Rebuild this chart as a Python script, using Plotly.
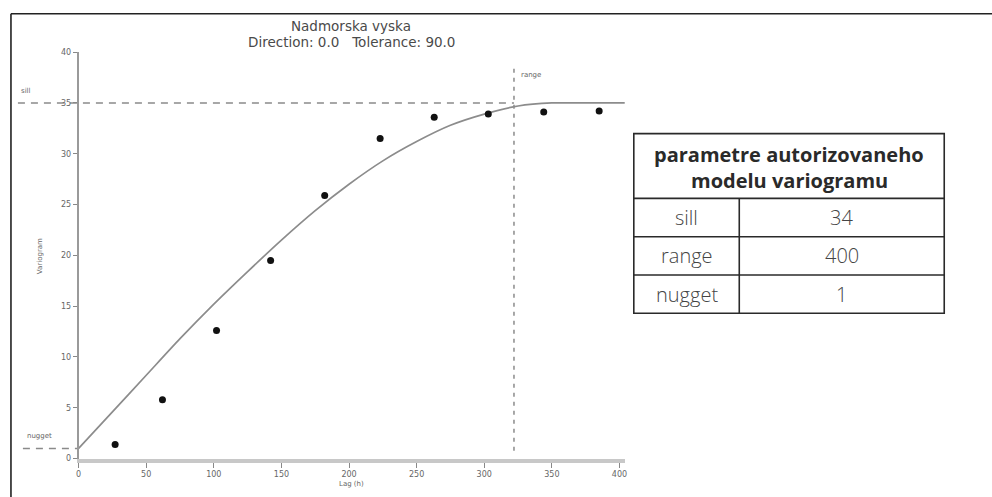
import plotly.graph_objects as go

# ---- data ---------------------------------------------------------------
# experimental semivariogram (lag h, gamma)
lag = [27, 62, 102, 142, 182, 223, 263, 303, 344, 385]
semivariance = [1.4, 5.8, 12.6, 19.5, 25.9, 31.5, 33.6, 33.9, 34.1, 34.2]

# fitted model curve sampled along the lag axis
curve_lag = [0, 25, 50, 75, 100, 125, 150, 175, 200, 225, 250, 275, 300, 325, 350, 375, 404]
curve_gamma = [1.0, 4.6, 8.2, 11.8, 15.2, 18.4, 21.5, 24.4, 27.0, 29.3, 31.2, 32.8, 33.9, 34.7, 35.0, 35.0, 35.0]

x_ticks = [0, 50, 100, 150, 200, 250, 300, 350, 400]
y_ticks = [0, 5, 10, 15, 20, 25, 30, 35, 40]

nugget = 1
partial_sill = 34
range_lag = 322

table_header = ["parametre autorizovaneho", "modelu variogramu"]
table_names = ["sill", "range", "nugget"]
table_values = ["34", "400", "1"]

title_lines = ["Nadmorska vyska", "Direction: 0.0\u00a0\u00a0\u00a0Tolerance: 90.0"]

# ---- geometry helpers ---------------------------------------------------
W, H = 992, 497
XR = [0, 404]
YR = [0, 40]
XD = [76 / W, 625 / W]
YD = [1 - 463 / H, 1 - 49 / H]


def fx(p):
    return p / W


def fy(p):
    return 1 - p / H


def x_to_paper(v):
    return XD[0] + (v - XR[0]) / (XR[1] - XR[0]) * (XD[1] - XD[0])


TICK_FONT = dict(family="DejaVu Sans", size=8, color="#666666")
SMALL_FONT = dict(family="DejaVu Sans", size=7, color="#666666")

fig = go.Figure()

# model curve
fig.add_trace(go.Scatter(
    x=curve_lag, y=curve_gamma, mode="lines",
    line=dict(color="#8c8c8c", width=1.7, shape="spline", smoothing=0.7),
    hoverinfo="skip",
))

# experimental points
fig.add_trace(go.Scatter(
    x=lag, y=semivariance, mode="markers",
    marker=dict(color="#111111", size=7, symbol="circle"),
))

shapes = []
dash_col = "#8a8a8a"

# sill reference line (nugget + partial sill)
shapes.append(dict(
    type="line", xref="paper", yref="y",
    x0=fx(15), x1=x_to_paper(range_lag),
    y0=nugget + partial_sill, y1=nugget + partial_sill,
    line=dict(color=dash_col, width=1.5, dash="7px,6px"), layer="below",
))
# nugget reference line
shapes.append(dict(
    type="line", xref="paper", yref="y",
    x0=fx(20), x1=x_to_paper(0),
    y0=nugget, y1=nugget,
    line=dict(color=dash_col, width=1.5, dash="7px,6px"), layer="below",
))
# range marker
shapes.append(dict(
    type="line", xref="x", yref="paper",
    x0=range_lag, x1=range_lag, y0=fy(455), y1=fy(66),
    line=dict(color=dash_col, width=1.5, dash="4px,5px"), layer="below",
))

# outer frame (top and left edges)
shapes.append(dict(type="line", xref="paper", yref="paper",
                   x0=fx(8), x1=1.01, y0=fy(10), y1=fy(10),
                   line=dict(color="#222222", width=1.6)))
shapes.append(dict(type="line", xref="paper", yref="paper",
                   x0=fx(8), x1=fx(8), y0=fy(10), y1=-0.01,
                   line=dict(color="#222222", width=1.6)))

# parameter table
tx0, tx1, tcol = 634, 946, 740
ty_top, ty_head, ty_bot = 132, 198, 315
row_edges = [198, 237, 276, 315]
tcolor = "#2a2a2a"
shapes.append(dict(type="rect", xref="paper", yref="paper",
                   x0=fx(tx0), x1=fx(tx1), y0=fy(ty_bot), y1=fy(ty_top),
                   line=dict(color=tcolor, width=1.6), fillcolor="white"))
for ye in row_edges[:-1]:
    shapes.append(dict(type="line", xref="paper", yref="paper",
                       x0=fx(tx0), x1=fx(tx1), y0=fy(ye), y1=fy(ye),
                       line=dict(color=tcolor, width=1.6)))
shapes.append(dict(type="line", xref="paper", yref="paper",
                   x0=fx(tcol), x1=fx(tcol), y0=fy(ty_head), y1=fy(ty_bot),
                   line=dict(color=tcolor, width=1.6)))

annotations = []
# title
for i, line in enumerate(title_lines):
    annotations.append(dict(
        text=line, xref="paper", yref="paper", x=fx(350), y=fy(22 + 17 * i),
        xanchor="center", yanchor="middle", showarrow=False,
        font=dict(family="DejaVu Sans", size=13.5, color="#4a4a4a"),
    ))

# axis titles
annotations.append(dict(text="Lag (h)", xref="paper", yref="paper",
                        x=fx(350), y=fy(489), xanchor="center", yanchor="middle",
                        showarrow=False, font=SMALL_FONT))
annotations.append(dict(text="Variogram", xref="paper", yref="paper",
                        x=fx(38), y=fy(257), xanchor="center", yanchor="middle",
                        textangle=-90, showarrow=False, font=SMALL_FONT))

# reference line labels
annotations.append(dict(text="sill", xref="paper", yref="y",
                        x=fx(16), y=nugget + partial_sill, yshift=12,
                        xanchor="left", yanchor="middle", showarrow=False, font=SMALL_FONT))
annotations.append(dict(text="nugget", xref="paper", yref="y",
                        x=fx(22), y=nugget, yshift=12,
                        xanchor="left", yanchor="middle", showarrow=False, font=SMALL_FONT))
annotations.append(dict(text="range", xref="x", yref="paper",
                        x=range_lag, xshift=5, y=fy(72),
                        xanchor="left", yanchor="middle", showarrow=False, font=SMALL_FONT))

# table text
for i, line in enumerate(table_header):
    annotations.append(dict(
        text="<b>" + line + "</b>", xref="paper", yref="paper",
        x=fx((tx0 + tx1) / 2), y=fy(153 + 27 * i),
        xanchor="center", yanchor="middle", showarrow=False,
        font=dict(family="Open Sans", size=20, color="#2a2a2a"),
    ))
for i, (name, val) in enumerate(zip(table_names, table_values)):
    yc = (row_edges[i] + row_edges[i + 1]) / 2
    annotations.append(dict(
        text=name, xref="paper", yref="paper", x=fx((tx0 + tcol) / 2), y=fy(yc),
        xanchor="center", yanchor="middle", showarrow=False,
        font=dict(family="Open Sans", size=20, color="#444444", weight=300),
    ))
    annotations.append(dict(
        text=val, xref="paper", yref="paper", x=fx((tcol + tx1) / 2), y=fy(yc),
        xanchor="center", yanchor="middle", showarrow=False,
        font=dict(family="Open Sans", size=20, color="#444444", weight=300),
    ))

fig.update_layout(
    width=W, height=H,
    margin=dict(l=0, r=0, t=0, b=0),
    paper_bgcolor="white",
    plot_bgcolor="rgba(0,0,0,0)",
    showlegend=False,
    shapes=shapes,
    annotations=annotations,
    xaxis=dict(
        domain=XD, range=XR, tickvals=x_ticks, ticktext=[str(v) for v in x_ticks],
        ticks="outside", ticklen=5, tickwidth=1.2, tickcolor="#888888",
        showline=True, linecolor="#c8c8c8", linewidth=4,
        showgrid=False, zeroline=False, tickfont=TICK_FONT,
    ),
    yaxis=dict(
        domain=YD, range=YR, tickvals=y_ticks, ticktext=[str(v) for v in y_ticks],
        ticks="outside", ticklen=4, tickwidth=1.2, tickcolor="#888888",
        showline=True, linecolor="#9a9a9a", linewidth=1.6,
        showgrid=False, zeroline=False, tickfont=TICK_FONT,
    ),
)

fig.write_html("out.html")
